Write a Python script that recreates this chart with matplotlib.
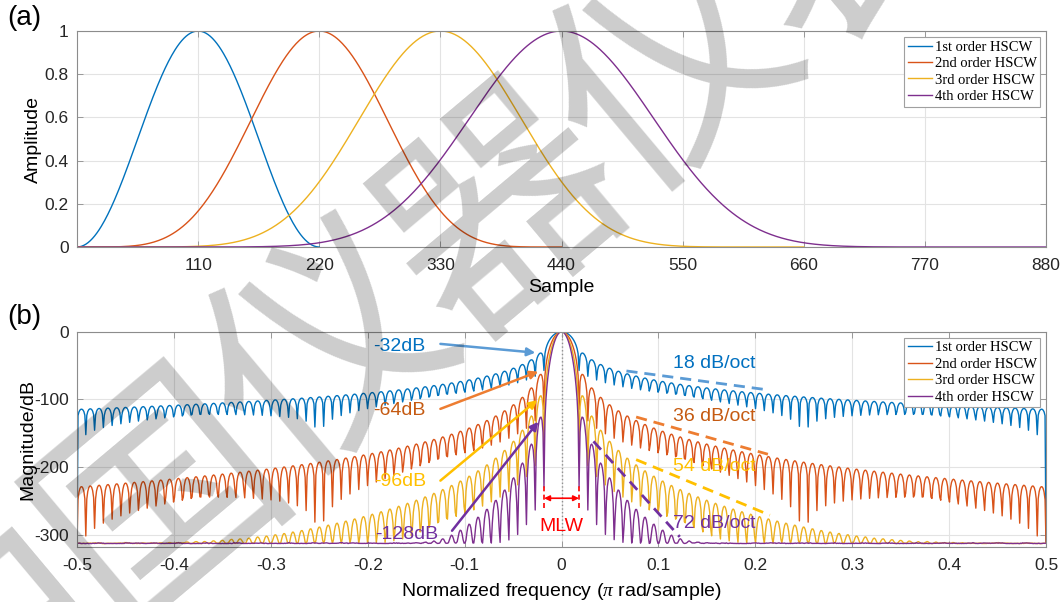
import matplotlib.pyplot as plt
import numpy as np

# Hann self-convolution windows (HSCW): 1st order = Hann over samples 0..220
base_len = 221
orders = [1, 2, 3, 4]
labels = ['1st order HSCW', '2nd order HSCW', '3rd order HSCW', '4th order HSCW']
nfft = 1988

sample_ticks = [110, 220, 330, 440, 550, 660, 770, 880]
amp_ticks = [0, 0.2, 0.4, 0.6, 0.8, 1]
amp_ticklabels = ['0', '0.2', '0.4', '0.6', '0.8', '1']
freq_ticks = [-0.5, -0.4, -0.3, -0.2, -0.1, 0, 0.1, 0.2, 0.3, 0.4, 0.5]
freq_ticklabels = ['-0.5', '-0.4', '-0.3', '-0.2', '-0.1', '0', '0.1', '0.2', '0.3', '0.4', '0.5']
db_ticks = [-300, -200, -100, 0]
db_ticklabels = ['-300', '-200', '-100', '0']

# annotations in panel (b)
sidelobe_labels = ['-32dB', '-64dB', '-96dB', '-128dB']
sidelobe_text_xy = [(-0.167, -22), (-0.167, -116), (-0.167, -222), (-0.160, -300)]
sidelobe_tail_xy = [(-0.125, -18), (-0.125, -114), (-0.125, -220), (-0.113, -294)]
sidelobe_head_xy = [(-0.027, -31), (-0.024, -59), (-0.025, -101), (-0.024, -133)]
decay_labels = ['18 dB/oct', '36 dB/oct', '54 dB/oct', '72 dB/oct']
decay_text_xy = [(0.158, -47), (0.158, -125), (0.158, -199), (0.158, -283)]
decay_start_xy = [(0.067, -58), (0.077, -126), (0.077, -189), (0.033, -162)]
decay_end_xy = [(0.208, -85), (0.213, -181), (0.215, -271), (0.122, -303)]
mlw_edges = [-0.018, 0.018]

watermark_chars = ['中', '国', '仪', '器', '仪', '表']

line_colors = ['#0072BD', '#D95319', '#EDB120', '#7E2F8E']
arrow_colors = ['#5B9BD5', '#ED7D31', '#FFC000', '#7030A0']
text_colors = ['#0070C0', '#C55A11', '#FFC000', '#7030A0']

plt.rcParams['font.family'] = ['Liberation Sans', 'DejaVu Sans']
plt.rcParams['mathtext.fontset'] = 'custom'
plt.rcParams['mathtext.it'] = 'Liberation Serif:italic'


def hscw(order):
    hann = np.hanning(base_len)
    w = hann
    for _ in range(order - 1):
        w = np.convolve(w, hann)
    return w / w.max()


def style_axes(ax):
    for sp in ax.spines.values():
        sp.set_color('#8c8c8c')
        sp.set_linewidth(0.8)
    ax.tick_params(direction='in', length=4, width=0.6, colors='#8c8c8c',
                   labelcolor='#262626', labelsize=12.5, top=True, right=True)
    ax.tick_params(axis='x', pad=8)
    ax.tick_params(axis='y', pad=6)
    ax.grid(color='#e3e3e3', linewidth=0.8)
    ax.set_axisbelow(True)


def add_legend(ax):
    leg = ax.legend(loc='upper right', prop={'family': 'Liberation Serif', 'size': 10.5},
                    fancybox=False, framealpha=1, edgecolor='#a0a0a0',
                    handlelength=1.7, handletextpad=0.15, labelspacing=0.22,
                    borderpad=0.25, borderaxespad=0.4)
    leg.get_frame().set_linewidth(0.8)


fig = plt.figure(figsize=(10.64, 6.02), dpi=100)
ax_a = fig.add_axes([0.0724, 0.5897, 0.9107, 0.3588])
ax_b = fig.add_axes([0.0724, 0.0914, 0.9107, 0.3576])

windows = [hscw(p) for p in orders]

# (a) time-domain windows
for w, lab, c in zip(windows, labels, line_colors):
    ax_a.plot(np.arange(len(w)), w, color=c, lw=1.0, label=lab)
ax_a.set_xlim(0, 880)
ax_a.set_ylim(0, 1)
ax_a.set_xticks(sample_ticks)
ax_a.set_yticks(amp_ticks)
ax_a.set_yticklabels(amp_ticklabels)
ax_a.set_xlabel('Sample', fontsize=14, labelpad=4)
ax_a.set_ylabel('Amplitude', fontsize=14, labelpad=2)
style_axes(ax_a)
add_legend(ax_a)

# (b) magnitude spectra
eps = np.finfo(float).eps
freq = np.fft.fftshift(np.fft.fftfreq(nfft)) * 2
for w, lab, c in zip(windows, labels, line_colors):
    spec = np.abs(np.fft.fftshift(np.fft.fft(w, nfft)))
    mag_db = 20 * np.log10(spec / spec.max() + eps)
    ax_b.plot(freq, mag_db, color=c, lw=1.0, label=lab)
ax_b.set_xlim(-0.5, 0.5)
ax_b.set_ylim(-318, 0)
ax_b.set_xticks(freq_ticks)
ax_b.set_xticklabels(freq_ticklabels)
ax_b.set_yticks(db_ticks)
ax_b.set_yticklabels(db_ticklabels)
ax_b.set_xlabel(r'Normalized frequency ($\pi$ rad/sample)', fontsize=14, labelpad=6)
ax_b.set_ylabel('Magnitude/dB', fontsize=14, labelpad=-2)
style_axes(ax_b)
add_legend(ax_b)

ax_b.vlines(0, -300, 0, colors='#909090', linestyles=':', lw=1.0, zorder=3)

for lab, txy, tail, head, ac, tc in zip(sidelobe_labels, sidelobe_text_xy, sidelobe_tail_xy,
                                        sidelobe_head_xy, arrow_colors, text_colors):
    ax_b.text(txy[0], txy[1], lab, color=tc, fontsize=14, ha='center', va='center', zorder=5)
    ax_b.annotate('', xy=head, xytext=tail,
                  arrowprops=dict(arrowstyle='-|>', color=ac, lw=1.8, mutation_scale=12,
                                  shrinkA=0, shrinkB=0), zorder=5)

for lab, txy, p0, p1, ac, tc in zip(decay_labels, decay_text_xy, decay_start_xy,
                                    decay_end_xy, arrow_colors, text_colors):
    ax_b.plot([p0[0], p1[0]], [p0[1], p1[1]], color=ac, lw=2.0, ls=(0, (4, 2.5)), zorder=5)
    ax_b.text(txy[0], txy[1], lab, color=tc, fontsize=14, ha='center', va='center', zorder=5)

ax_b.vlines(mlw_edges, -260, -226, colors='red', linestyles=(0, (3, 2)), lw=1.2, zorder=5)
ax_b.annotate('', xy=(mlw_edges[1], -246), xytext=(mlw_edges[0], -246),
              arrowprops=dict(arrowstyle='<|-|>', color='red', lw=1.2, mutation_scale=8,
                              shrinkA=0, shrinkB=0), zorder=5)
ax_b.text(0, -288, 'MLW', color='red', fontsize=14, ha='center', va='center', zorder=5)

fig.text(0.023, 0.97, '(a)', fontsize=20, ha='center', va='center')
fig.text(0.023, 0.473, '(b)', fontsize=20, ha='center', va='center')

# diagonal watermark
wm_x0, wm_y0 = -10, 640
wm_dx, wm_dy = 172, -142
for i, ch in enumerate(watermark_chars):
    px = wm_x0 + i * wm_dx
    py = wm_y0 + i * wm_dy
    fig.text(px / 1064, 1 - py / 602, ch, fontsize=170, rotation=40,
             family=['Noto Sans CJK SC', 'DejaVu Sans'], color='black', alpha=0.2,
             ha='center', va='center', zorder=10)

fig.savefig('out.png', dpi=100)
